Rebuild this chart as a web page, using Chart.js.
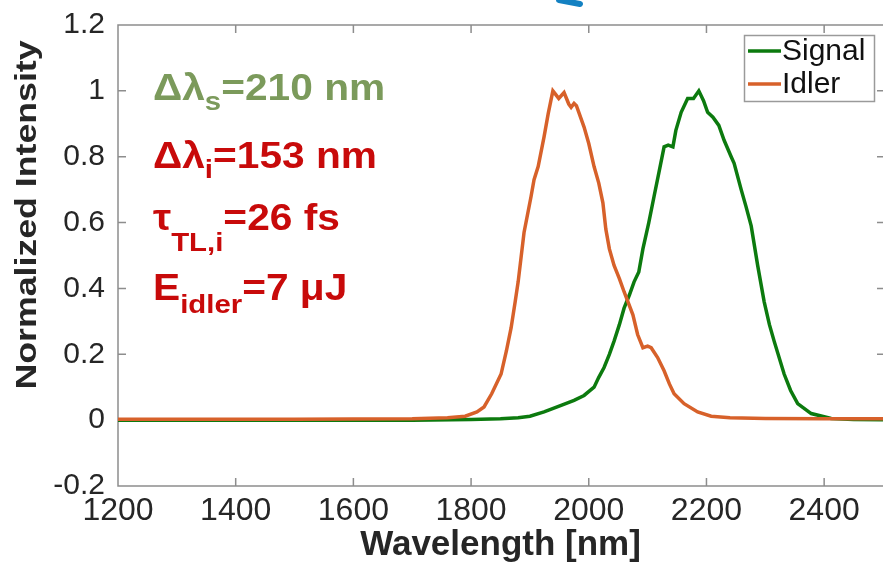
<!DOCTYPE html>
<html>
<head>
<meta charset="utf-8">
<script src="https://cdn.jsdelivr.net/npm/chart.js@4/dist/chart.umd.min.js"></script>
<style>
  html, body { margin: 0; padding: 0; background: #ffffff; }
  #wrap { width: 883px; height: 563px; position: relative; overflow: hidden; }
  canvas { display: block; }
</style>
</head>
<body>
<div id="wrap"><canvas id="spectrum" width="883" height="563"></canvas></div>
<script>
// Axis ticks
const xTicks = [1200, 1400, 1600, 1800, 2000, 2200, 2400];
const yTicks = [-0.2, 0, 0.2, 0.4, 0.6, 0.8, 1, 1.2];

// Signal spectrum (wavelength in nm, normalized intensity)
const signalWavelength = [1200, 1500, 1700, 1800, 1850, 1880, 1900, 1924, 1953, 1975, 1992, 2009, 2017, 2026, 2035, 2043, 2052, 2060, 2069, 2077, 2085, 2092, 2102, 2111, 2119, 2128, 2135, 2143, 2148, 2157, 2168, 2178, 2187, 2195, 2202, 2211, 2221, 2230, 2242, 2247, 2259, 2267, 2276, 2287, 2298, 2307, 2315, 2332, 2343, 2355, 2378, 2412, 2450, 2500];
const signalIntensity  = [0.000, 0.000, 0.000, 0.002, 0.004, 0.007, 0.012, 0.025, 0.045, 0.060, 0.075, 0.100, 0.130, 0.160, 0.200, 0.240, 0.290, 0.340, 0.380, 0.420, 0.450, 0.520, 0.600, 0.680, 0.750, 0.830, 0.835, 0.830, 0.880, 0.935, 0.977, 0.977, 1.000, 0.970, 0.935, 0.920, 0.895, 0.850, 0.800, 0.780, 0.700, 0.650, 0.590, 0.470, 0.360, 0.290, 0.240, 0.140, 0.090, 0.050, 0.020, 0.005, 0.002, 0.001];

// Idler spectrum (wavelength in nm, normalized intensity)
const idlerWavelength = [1200, 1500, 1700, 1760, 1790, 1810, 1822, 1835, 1851, 1860, 1868, 1875, 1880, 1890, 1902, 1907, 1914, 1924, 1931, 1939, 1949, 1958, 1966, 1970, 1975, 1979, 1984, 1992, 2000, 2009, 2017, 2024, 2029, 2035, 2043, 2052, 2060, 2075, 2083, 2092, 2100, 2106, 2117, 2128, 2137, 2145, 2162, 2185, 2208, 2240, 2300, 2400, 2500];
const idlerIntensity  = [0.003, 0.003, 0.004, 0.007, 0.012, 0.025, 0.040, 0.080, 0.140, 0.210, 0.280, 0.360, 0.420, 0.570, 0.680, 0.730, 0.770, 0.860, 0.930, 1.000, 0.977, 0.995, 0.960, 0.950, 0.962, 0.955, 0.930, 0.890, 0.840, 0.770, 0.720, 0.660, 0.580, 0.520, 0.470, 0.430, 0.390, 0.320, 0.260, 0.220, 0.225, 0.220, 0.190, 0.150, 0.110, 0.080, 0.050, 0.025, 0.012, 0.007, 0.005, 0.004, 0.004];

const seriesNames  = ['Signal', 'Idler'];
const seriesColors = ['#0c7a0e', '#d7612a'];

// Text block: each line is a list of [text, isSubscript]
const noteLines = [
  { color: '#7b9a5b', parts: [['Δλ', false], ['s', true], ['=210 nm', false]] },
  { color: '#c80a0a', parts: [['Δλ', false], ['i', true], ['=153 nm', false]] },
  { color: '#c80a0a', parts: [['τ', false], ['TL,i', true], ['=26 fs', false]] },
  { color: '#c80a0a', parts: [['E', false], ['idler', true], ['=7 μJ', false]] }
];
const noteBaselines = [100, 168, 230, 300];
const noteSubDrops  = [10, 10, 21, 13];

const FONT = '"Liberation Sans", Arial, Helvetica, sans-serif';
const AXIS_GREY = '#8d8d8d';

function toPoints(xs, ys) {
  return xs.map((x, i) => ({ x: x, y: ys[i] }));
}

// Frame around the plot (right side cut by the page edge) with inward tick marks
const boxPlugin = {
  id: 'boxTicks',
  beforeDatasetsDraw(chart) {
    const { ctx, chartArea: a, scales } = chart;
    const L = 8;
    const right = a.right + 2;
    ctx.save();
    ctx.strokeStyle = AXIS_GREY;
    ctx.lineWidth = 1.5;
    ctx.beginPath();
    ctx.moveTo(right, a.top); ctx.lineTo(a.left, a.top);
    ctx.lineTo(a.left, a.bottom); ctx.lineTo(right, a.bottom);
    xTicks.forEach(v => {
      const px = scales.x.getPixelForValue(v);
      ctx.moveTo(px, a.bottom); ctx.lineTo(px, a.bottom - L);
      ctx.moveTo(px, a.top);    ctx.lineTo(px, a.top + L);
    });
    yTicks.forEach(v => {
      const py = scales.y.getPixelForValue(v);
      ctx.moveTo(a.left, py);  ctx.lineTo(a.left + L, py);
      ctx.moveTo(right, py); ctx.lineTo(right - L, py);
    });
    ctx.stroke();
    ctx.restore();
  }
};

// Legend box in the upper right corner of the plot
const legendPlugin = {
  id: 'cornerLegend',
  afterDatasetsDraw(chart) {
    const { ctx, chartArea: a } = chart;
    const bx = a.right - 139, by = a.top + 10, bw = 130, bh = 66;
    ctx.save();
    ctx.fillStyle = '#ffffff';
    ctx.fillRect(bx, by, bw, bh);
    ctx.strokeStyle = '#9a9a9a';
    ctx.lineWidth = 1.5;
    ctx.strokeRect(bx + 0.5, by + 0.5, bw, bh);
    ctx.font = '30px ' + FONT;
    ctx.textBaseline = 'middle';
    ctx.textAlign = 'left';
    chart.data.datasets.forEach((ds, i) => {
      const cy = by + 16 + i * 33;
      ctx.strokeStyle = ds.borderColor;
      ctx.lineWidth = 3.5;
      ctx.beginPath();
      ctx.moveTo(bx + 4, cy); ctx.lineTo(bx + 37, cy);
      ctx.stroke();
      ctx.fillStyle = '#111111';
      ctx.fillText(ds.label, bx + 38, cy + 1);
    });
    ctx.restore();
  }
};

// Text block with subscripts, y-axis title and the blue pen stroke at the top
const notesPlugin = {
  id: 'notes',
  afterDraw(chart) {
    const { ctx, chartArea: a } = chart;
    ctx.save();
    noteLines.forEach((line, k) => {
      ctx.save();
      ctx.translate(a.left + 35, noteBaselines[k]);
      ctx.scale(1.13, 1);
      ctx.fillStyle = line.color;
      ctx.textBaseline = 'alphabetic';
      ctx.textAlign = 'left';
      let x = 0;
      line.parts.forEach(([t, sub]) => {
        ctx.font = (sub ? 'bold 26px ' : 'bold 36px ') + FONT;
        ctx.fillText(t, x, sub ? noteSubDrops[k] : 0);
        x += ctx.measureText(t).width;
      });
      ctx.restore();
    });

    // y-axis title
    ctx.save();
    ctx.translate(36, 215);
    ctx.rotate(-Math.PI / 2);
    ctx.scale(1.19, 1);
    ctx.font = 'bold 30px ' + FONT;
    ctx.fillStyle = '#262626';
    ctx.textAlign = 'center';
    ctx.textBaseline = 'alphabetic';
    ctx.fillText('Normalized Intensity', 0, 0);
    ctx.restore();

    // pen stroke cut by the top edge
    ctx.strokeStyle = '#1381c2';
    ctx.lineWidth = 6;
    ctx.lineCap = 'round';
    ctx.beginPath();
    ctx.moveTo(559, 0);
    ctx.lineTo(580, 4);
    ctx.stroke();
    ctx.restore();
  }
};

new Chart(document.getElementById('spectrum'), {
  type: 'line',
  data: {
    datasets: [
      {
        label: seriesNames[0],
        data: toPoints(signalWavelength, signalIntensity),
        borderColor: seriesColors[0],
        borderWidth: 3.5,
        pointRadius: 0,
        tension: 0,
        order: 1
      },
      {
        label: seriesNames[1],
        data: toPoints(idlerWavelength, idlerIntensity),
        borderColor: seriesColors[1],
        borderWidth: 3.5,
        pointRadius: 0,
        tension: 0,
        order: 0
      }
    ]
  },
  options: {
    responsive: false,
    animation: false,
    devicePixelRatio: 1,
    layout: { padding: { left: 0, top: 25, right: -1, bottom: 0 } },
    plugins: {
      legend: { display: false },
      tooltip: { enabled: false }
    },
    scales: {
      x: {
        type: 'linear',
        min: 1200,
        max: 2500,
        afterBuildTicks: s => { s.ticks = xTicks.map(v => ({ value: v })); },
        afterFit: s => { s.height = 77; s.paddingLeft = 0; s.paddingRight = 0; },
        grid: { display: false, drawTicks: false },
        border: { display: false },
        ticks: {
          autoSkip: false,
          maxRotation: 0,
          padding: 6,
          color: '#262626',
          font: { family: FONT, size: 32 },
          callback: v => String(v)
        },
        title: {
          display: true,
          text: 'Wavelength [nm]',
          color: '#262626',
          padding: 0,
          font: { family: FONT, size: 35, weight: 'bold', lineHeight: 1 }
        }
      },
      y: {
        type: 'linear',
        min: -0.2,
        max: 1.2,
        afterBuildTicks: s => { s.ticks = yTicks.map(v => ({ value: v })); },
        afterFit: s => { s.width = 118; s.paddingTop = 0; s.paddingBottom = 0; },
        grid: { display: false, drawTicks: false },
        border: { display: false },
        ticks: {
          autoSkip: false,
          padding: 13,
          color: '#262626',
          font: { family: FONT, size: 30 },
          callback: v => String(Number(v.toFixed(1)))
        }
      }
    }
  },
  plugins: [boxPlugin, legendPlugin, notesPlugin]
});
</script>
</body>
</html>
